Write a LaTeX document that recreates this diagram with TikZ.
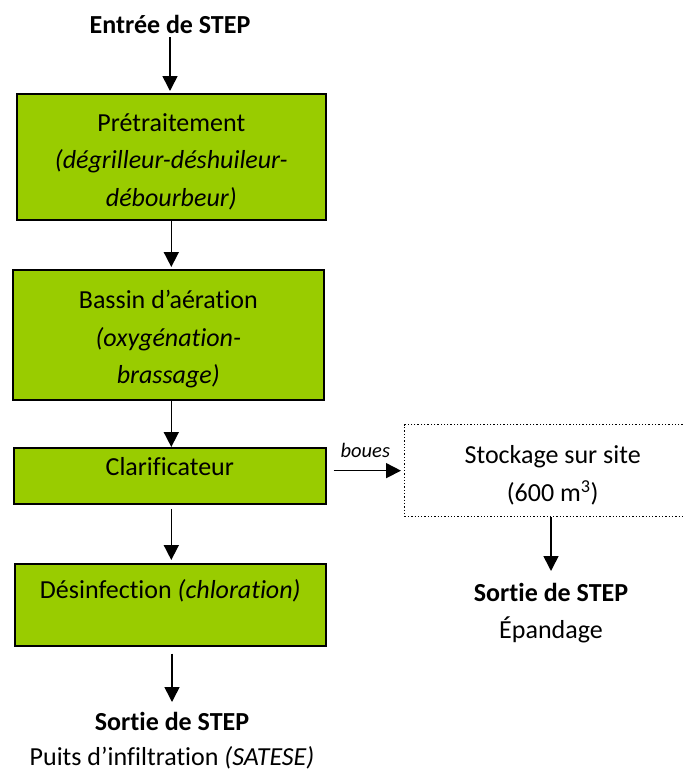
\documentclass[tikz,border=0pt]{standalone}
\usepackage{fontspec}
\setmainfont{Carlito}[Ligatures=NoCommon]
\usetikzlibrary{arrows.meta}

\definecolor{stepgreen}{HTML}{99CC00}
\newcommand{\grand}{\fontsize{26}{37.5}\selectfont}
\newcommand{\petit}{\fontsize{20.5}{24}\selectfont}
% invisible rule that lowers the first line of a box
\newcommand{\haut}{\rule{0pt}{27pt}}

\tikzset{
    etape/.style={draw, fill=stepgreen, line width=1.6pt, align=center,
        inner sep=0pt, anchor=north west, font=\grand},
    stockbox/.style={draw, dotted, line width=1.3pt, align=center,
        inner sep=0pt, anchor=north west, font=\grand},
    texte/.style={align=center, font=\grand, inner sep=0pt},
    fleche/.style={-{Triangle[length=15pt,width=15pt]}, line width=1.6pt}
}

\begin{document}
\begin{tikzpicture}[x=1pt, y=-1pt]
    \useasboundingbox (0,0) rectangle (684,774);

    % Entry of the plant
    \node[texte, anchor=base] (entree) at (170,33) {\textbf{Entrée de STEP}};

    % Treatment steps, one below the other
    \node[etape, minimum width=309pt, minimum height=126pt] (pre) at (16,93)
        {\haut Prétraitement\\\textit{(dégrilleur-déshuileur-}\\\textit{débourbeur)}};
    \node[etape, minimum width=311pt, minimum height=130pt] (bassin) at (12,269)
        {\haut Bassin d’aération\\\textit{(oxygénation-}\\\textit{brassage)}};
    \node[etape, minimum width=312pt, text height=28pt, text depth=28pt] (clar) at (13,447)
        {Clarificateur};
    \node[etape, minimum width=311pt, text height=35pt, text depth=47pt] (desinf) at (14,563)
        {Désinfection \textit{(chloration)}};

    % Outlet of the water
    \node[texte, anchor=north, font=\fontsize{26}{35}\selectfont] (sortie) at (172,712)
        {\textbf{Sortie de STEP}\\Puits d’infiltration \textit{(SATESE)}};

    % Arrows along the water line
    \draw[fleche, shorten <=4pt, shorten >=2pt] (entree) -- (entree |- pre.north);
    \draw[fleche, shorten >=2pt] (pre) -- (pre |- bassin.north);
    \draw[fleche] (pre |- bassin.south) -- (pre |- clar.north);
    \draw[fleche, shorten <=4pt, shorten >=3pt] (pre |- clar.south) -- (pre |- desinf.north);
    \draw[fleche, shorten <=7pt, shorten >=10pt] (sortie |- desinf.south) -- (sortie);

    % Sludge storage on the right
    \node[stockbox, minimum width=296pt, minimum height=92pt] (stock) at (404,424)
        {\haut Stockage sur site\\(600 m\textsuperscript{3})};
    \draw[fleche, shorten <=7pt, shorten >=3pt] (clar.east |- stock.west) -- (stock.west)
        node[midway, above=12pt, inner sep=0pt, font=\petit\itshape] (boues) {boues};

    % Outlet of the sludge
    \node[texte, anchor=north] (sortieb) at (551,583)
        {\textbf{Sortie de STEP}\\Épandage};
    \draw[fleche, shorten >=12pt] (sortieb |- stock.south) -- (sortieb);
\end{tikzpicture}
\end{document}
